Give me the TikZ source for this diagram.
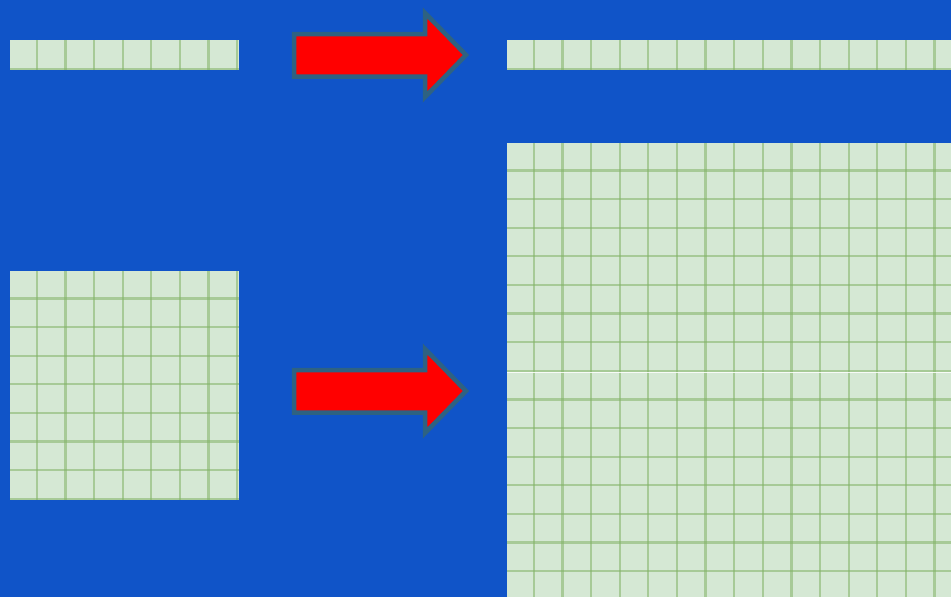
\documentclass[tikz,border=0pt]{standalone}
\definecolor{bg}{RGB}{16,84,200}
\definecolor{cellfill}{HTML}{D5E8D4}
\definecolor{cellline}{HTML}{82B366}
\definecolor{arrowline}{RGB}{46,98,130}
\begin{document}
\begin{tikzpicture}[x=1pt,y=-1pt,
  gridline/.style={draw=cellline, line width=2.2pt, draw opacity=0.55},
  seam/.style={draw=white, line width=0.8pt, draw opacity=0.85},
  bigarrow/.style={fill=red, draw=arrowline, line width=4.5pt, miter limit=10}]
\fill[bg] (0,0) rectangle (951,597);
\useasboundingbox (0,0) rectangle (951,597);
% left strip
\fill[cellfill] (10,40) rectangle (239,70);
\begin{scope}
\clip (10,40) rectangle (239,70);
\foreach \k in {1,...,8} \draw[gridline] ({10+28.625*\k-1.8},40) -- ++(0,30);
\draw[gridline] (10,69) -- (239,69);
\end{scope}
% left square
\fill[cellfill] (10,271) rectangle (239,500);
\begin{scope}
\clip (10,271) rectangle (239,500);
\foreach \k in {1,...,8} {
  \draw[gridline] ({10+28.625*\k-1.8},271) -- ++(0,229);
  \draw[gridline] (10,{271+28.625*\k-1.2}) -- ++(229,0);
}
\end{scope}
% right strip
\fill[cellfill] (507,40) rectangle (951,70);
\begin{scope}
\clip (507,40) rectangle (951,70);
\foreach \k in {1,...,16} \draw[gridline] ({507+28.625*\k-1.8},40) -- ++(0,30);
\draw[gridline] (507,69) -- (951,69);
\end{scope}
% right big grid
\fill[cellfill] (507,143) rectangle (951,597);
\begin{scope}
\clip (507,143) rectangle (951,597);
\foreach \k in {1,...,16} {
  \draw[gridline] ({507+28.625*\k-1.8},143) -- ++(0,454);
  \draw[gridline] (507,{143+28.625*\k-1.2}) -- ++(444,0);
}
\draw[seam] (507,372.3) -- (951,372.3);
\end{scope}
% arrows
\draw[bigarrow] (294,34) -- (425,34) -- (425,13) -- (466,55) -- (425,97) -- (425,76.5) -- (294,76.5) -- cycle;
\begin{scope}[shift={(0,336)}]
\draw[bigarrow] (294,34) -- (425,34) -- (425,13) -- (466,55) -- (425,97) -- (425,76.5) -- (294,76.5) -- cycle;
\end{scope}
\end{tikzpicture}
\end{document}
